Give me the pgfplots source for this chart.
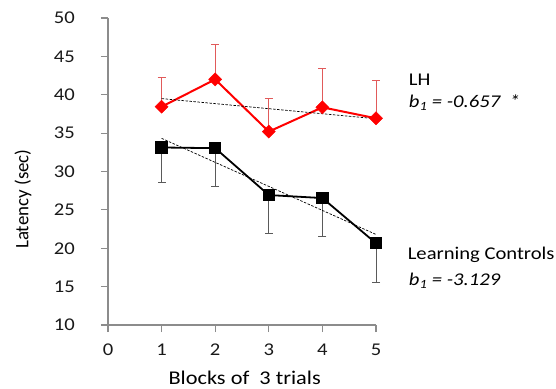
\documentclass[border=0pt]{standalone}
\usepackage{pgfplots}
\pgfplotsset{compat=1.18}
\usepackage{fontspec}
\setmainfont{Carlito}[FakeStretch=1.15]
\newfontfamily\uprightlabel{Carlito}

% Latency per block of trials, with one-sided standard errors
\pgfplotstableread{
x   y      e
1   38.44  3.82
2   42.00  4.55
3   35.20  4.33
4   38.36  5.02
5   36.93  4.89
}\lhdata
\pgfplotstableread{
x   y      e
1   33.13  4.51
2   33.04  4.99
3   26.93  4.98
4   26.54  5.06
5   20.65  5.10
}\ctrldata

\definecolor{axisgray}{RGB}{140,140,140}
\definecolor{lhred}{RGB}{255,0,0}
\definecolor{lherr}{RGB}{225,90,90}
\definecolor{ctrlerr}{RGB}{90,90,90}

\begin{document}
\fontsize{18}{21}\selectfont
\begin{tikzpicture}
\begin{axis}[
  at={(0,0)}, anchor=south west,
  scale only axis, width=268bp, height=307bp,
  xmin=0, xmax=5, ymin=10, ymax=50,
  xtick={0,1,2,3,4,5}, ytick={10,15,20,25,30,35,40,45,50},
  axis x line=bottom, axis y line=left,
  axis line style={draw=axisgray, line width=1.2bp, -},
  tick align=outside, major tick length=7bp,
  tick style={draw=axisgray, line width=1.2bp},
  clip=false,
  /pgf/number format/assume math mode=true,
  ticklabel style={font=\fontsize{18}{21}\selectfont, text=black!90},
  xticklabel style={yshift=-6bp},
  yticklabel style={anchor=east, xshift=-20bp},
  xlabel={Blocks of\ \ 3 trials},
  ylabel={Latency (sec)},
  xlabel style={at={(rel axis cs:0.51,0)}, anchor=center, yshift=-53bp, font=\fontsize{19.5}{23}\selectfont},
  ylabel style={at={(rel axis cs:0,0.41)}, anchor=center, yshift=85bp, font=\uprightlabel\fontsize{19}{22}\selectfont},
]
% LH group: upward error bars
\addplot[lhred, line width=2bp,
  mark=square*, mark size=4.6bp, mark options={rotate=45, fill=lhred, draw=lhred, solid, line width=0.5bp},
  error bars/.cd, y dir=plus, y explicit,
  error bar style={color=lherr, line width=0.9bp},
  error mark options={rotate=90, mark size=4bp, color=lherr, line width=0.9bp}]
  table[x=x, y=y, y error=e]{\lhdata};
% Learning controls: downward error bars
\addplot[black, line width=1.8bp,
  mark=square*, mark size=5.2bp, mark options={fill=black, solid},
  error bars/.cd, y dir=minus, y explicit,
  error bar style={color=ctrlerr, line width=0.9bp},
  error mark options={rotate=90, mark size=4bp, color=ctrlerr, line width=0.9bp}]
  table[x=x, y=y, y error=e]{\ctrldata};
% linear trends
\addplot[black, line width=0.7bp, dash pattern=on 2.5bp off 1.5bp] coordinates {(1,39.50) (5,36.87)};
\addplot[black, line width=0.7bp, dash pattern=on 2.5bp off 1.5bp] coordinates {(1,34.32) (5,21.80)};
% group annotations
\node[anchor=west, inner sep=0pt] at (axis cs:5.61,42.0) {LH};
\node[anchor=west, inner sep=0pt] at (axis cs:5.61,39.0) {\itshape b\textsubscript{1} = -0.657\ \ *};
\node[anchor=west, inner sep=0pt] at (axis cs:5.59,19.2) {Learning Controls};
\node[anchor=west, inner sep=0pt] at (axis cs:5.61,15.8) {\itshape b\textsubscript{1} = -3.129};
\end{axis}
\pgfresetboundingbox
\path[use as bounding box] (-108bp,-64bp) rectangle (448bp,325bp);
\end{tikzpicture}
\end{document}
